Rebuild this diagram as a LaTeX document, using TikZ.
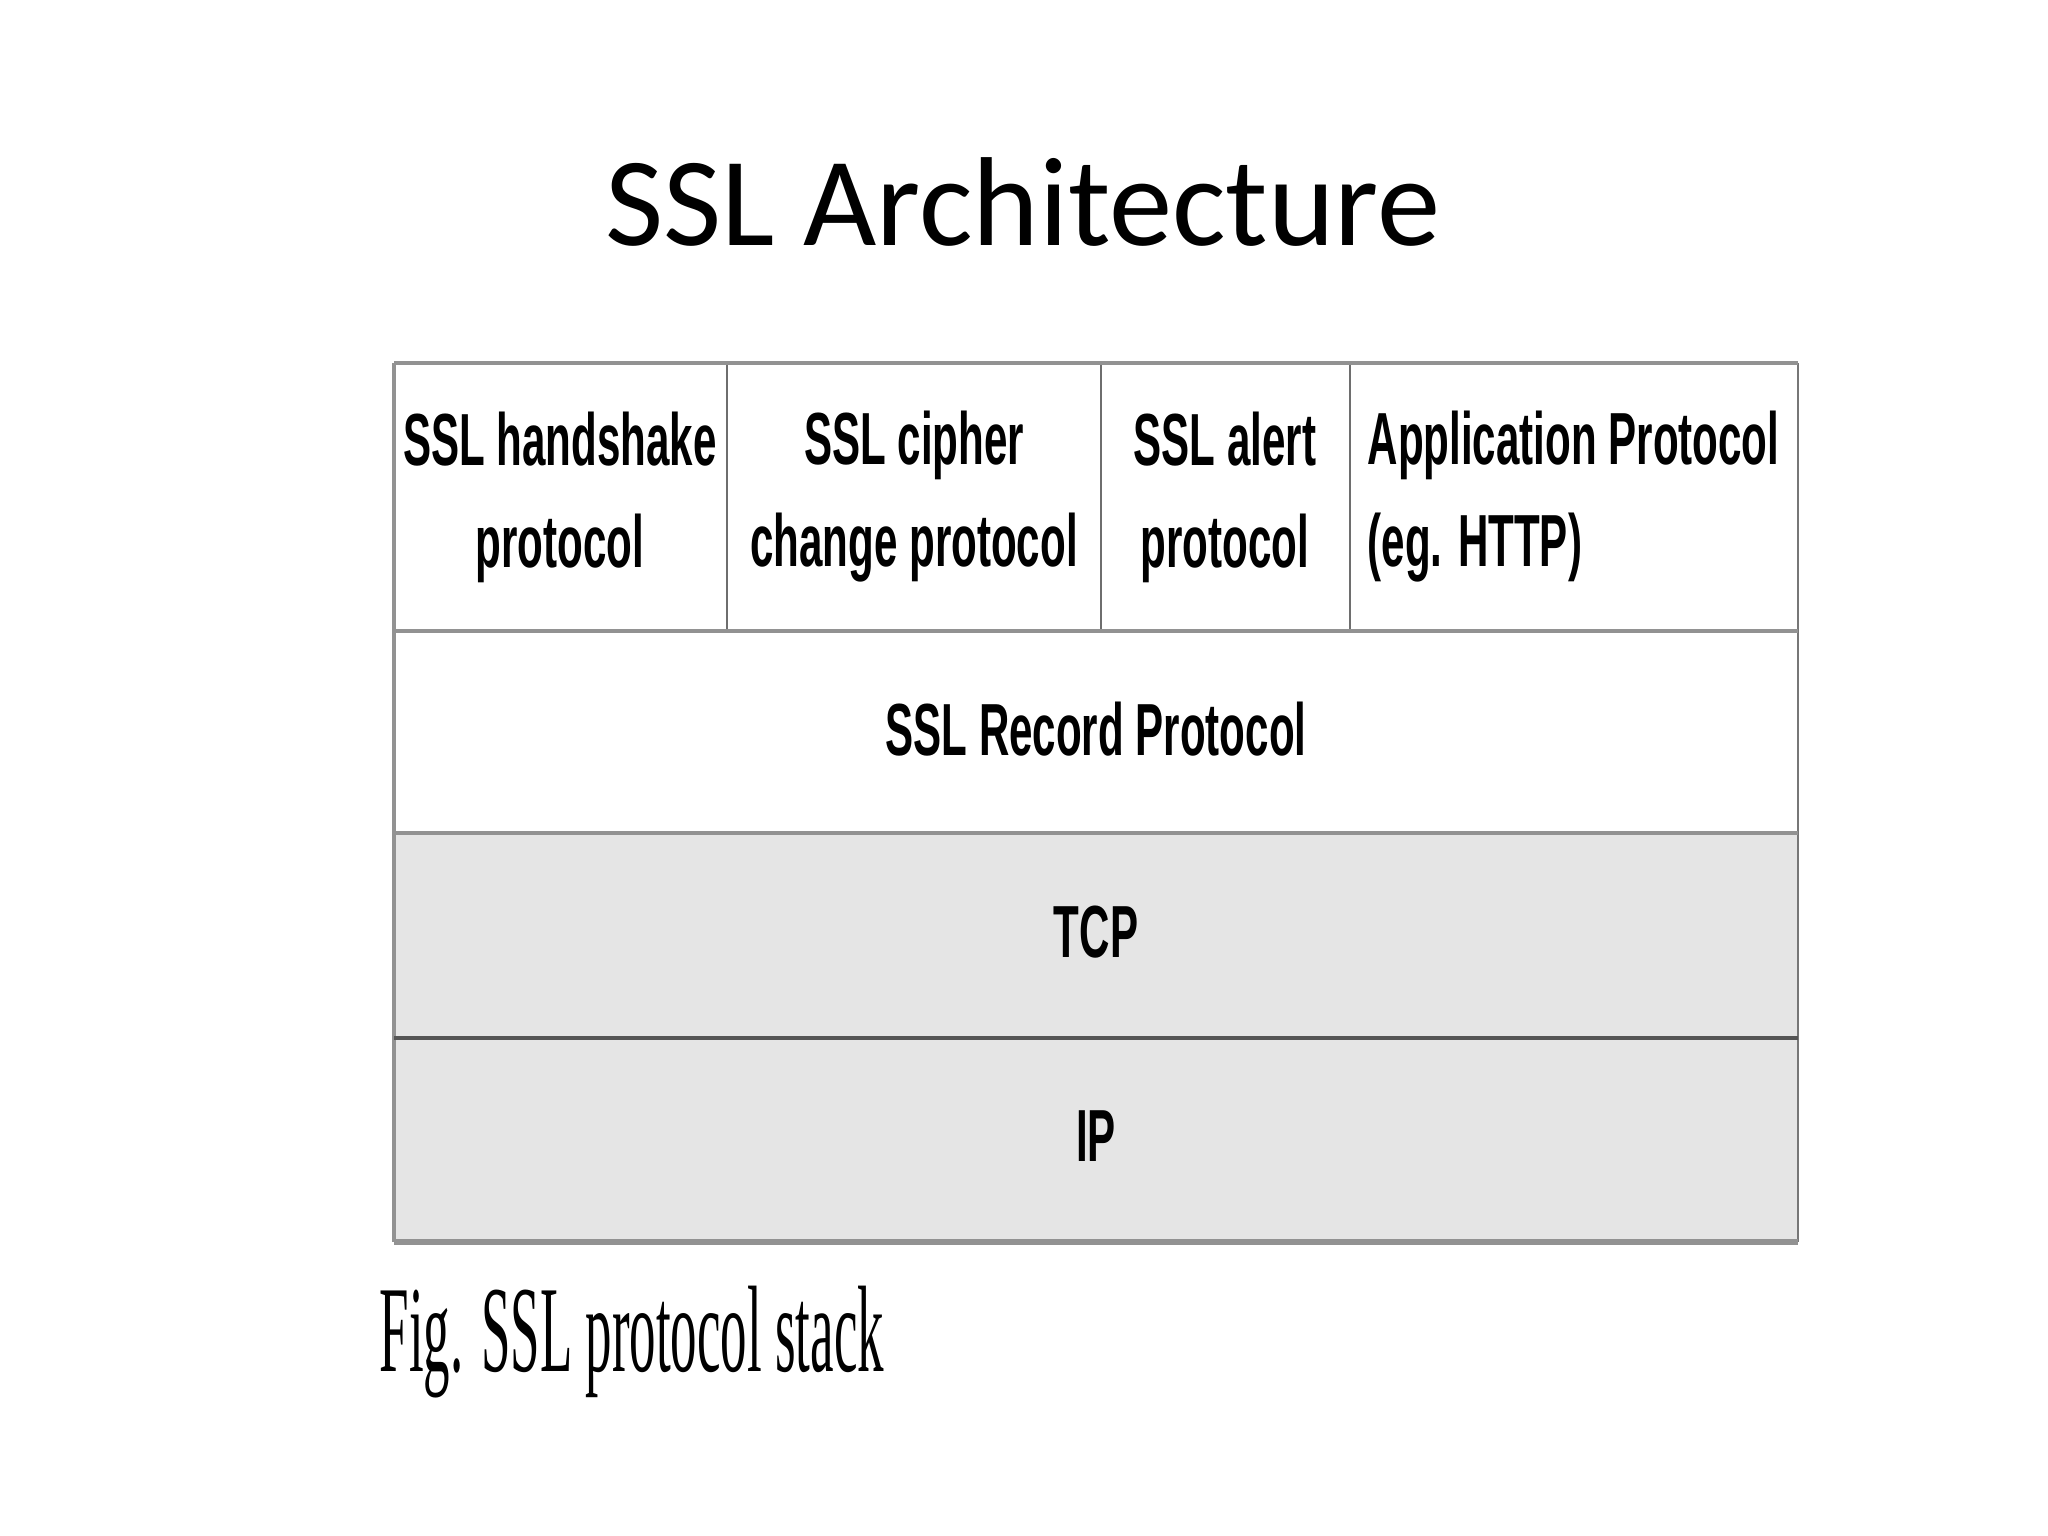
\documentclass[tikz,border=0pt]{standalone}
\usepackage{fontspec}
\setmainfont{Carlito}
\newfontfamily\tabfont[FakeStretch=0.57]{Liberation Sans}
\newfontfamily\capfont[FakeStretch=0.43]{Liberation Serif}
\definecolor{rowgray}{HTML}{E5E5E5}
\definecolor{lgray}{HTML}{929292}
\definecolor{dgray}{HTML}{555555}
\tikzset{
  titlestyle/.style={inner sep=0pt, font=\fontsize{36}{40}\selectfont},
  lbl/.style={inner sep=0pt, align=center, font=\tabfont\bfseries\fontsize{21}{29}\selectfont},
  capstyle/.style={inner sep=0pt, font=\capfont\fontsize{35}{40}\selectfont},
  gline/.style={draw=lgray, line width=1.4pt},
  dline/.style={draw=dgray, line width=1.4pt},
  coldiv/.style={draw=dgray!85, line width=0.8pt}
}
\begin{document}
\begin{tikzpicture}[x=0.01cm,y=-0.01cm]
\useasboundingbox[fill=white] (0,0) rectangle (2048,1536);
\node[titlestyle] (title) at (1023,202) {SSL Architecture};
% shaded rows
\fill[rowgray] (394,833) rectangle (1798,1242);
% column dividers
\draw[coldiv] (727,363) -- (727,631);
\draw[coldiv] (1101,363) -- (1101,631);
\draw[coldiv] (1350,363) -- (1350,631);
% borders
\draw[draw=lgray, line width=1.1pt] (394,363) -- (394,1242);
\draw[draw=dgray!80, line width=0.6pt] (1798,363) -- (1798,1242);
\draw[gline] (394,363) -- (1798,363);
\draw[gline] (394,631) -- (1798,631);
\draw[gline] (394,833) -- (1798,833);
\draw[dline] (394,1038) -- (1798,1038);
\draw[gline, line width=1.7pt] (394,1242) -- (1798,1242);
% texts
\node[lbl] (hs) at (560,497) {SSL handshake\\protocol};
\node[lbl] (cc) at (914,497) {SSL cipher\\change protocol};
\node[lbl] (al) at (1225,497) {SSL alert\\protocol};
\node[lbl, align=left, anchor=west] (app) at (1367,497) {Application Protocol\\(eg. HTTP)};
\node[lbl] (rec) at (1096,729) {SSL Record Protocol};
\node[lbl] (tcp) at (1096,932) {TCP};
\node[lbl] (ip) at (1096,1136) {IP};
\node[capstyle, anchor=base west] (cap) at (379,1371) {Fig. SSL protocol stack};
\end{tikzpicture}
\end{document}
